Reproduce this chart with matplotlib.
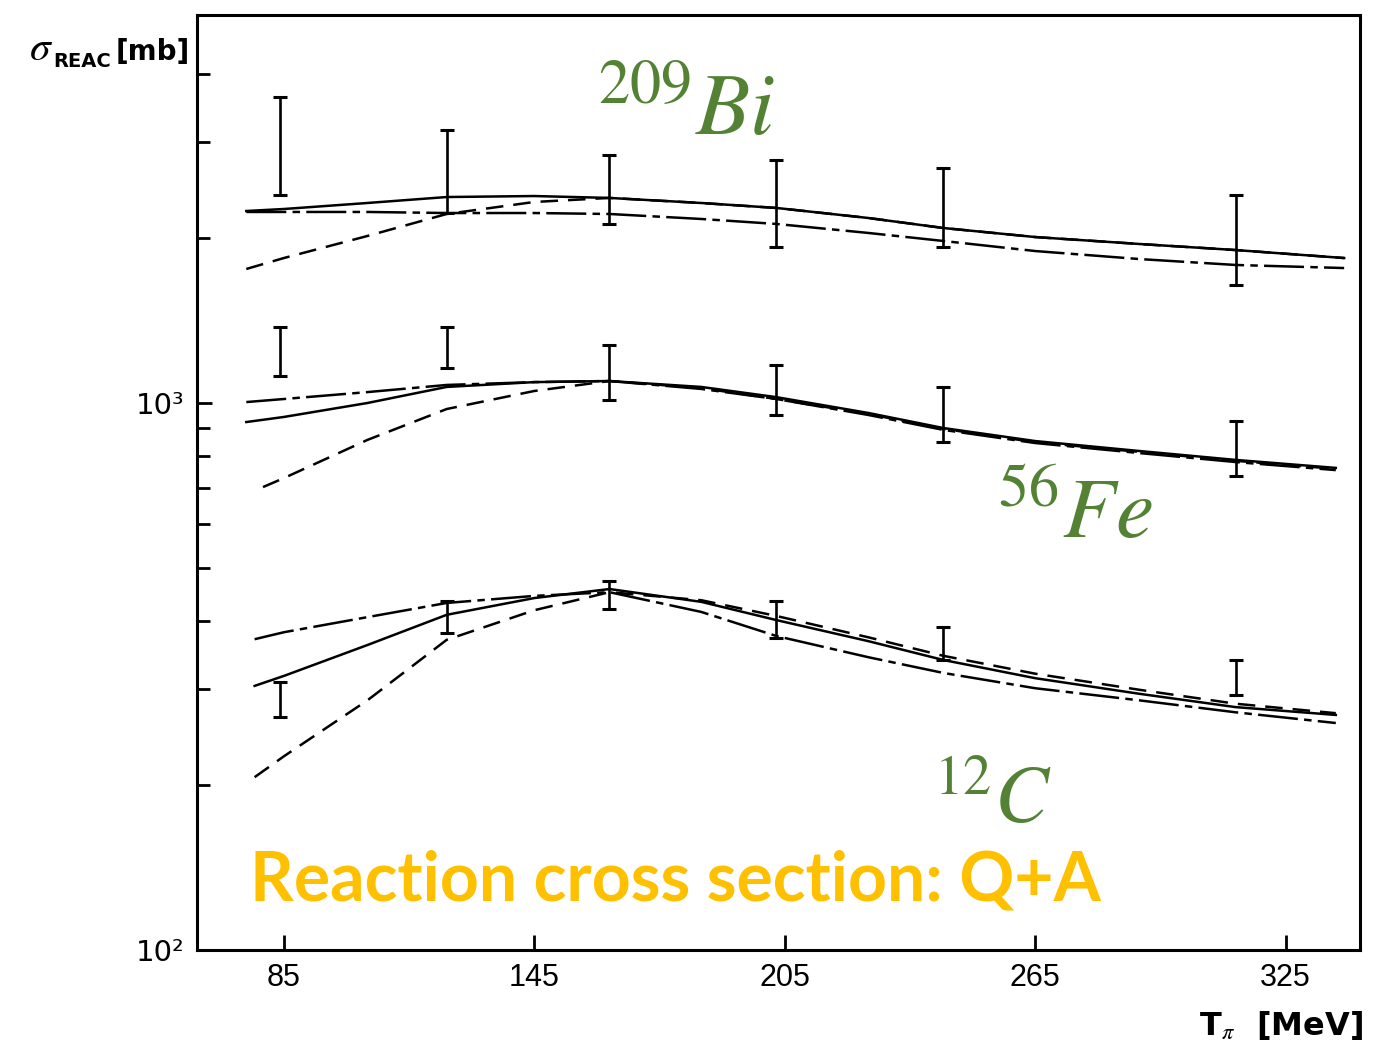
import matplotlib
matplotlib.use("Agg")
import matplotlib.pyplot as plt
import numpy as np

plt.rcParams['mathtext.fontset'] = 'stix'

# --- 209Bi ---
bi_x = [76, 85, 105, 124, 145, 163, 185, 203, 225, 243, 265, 290, 313, 339]
bi_solid = [2244, 2263, 2321, 2380, 2390, 2371, 2321, 2273, 2179, 2089, 2011, 1953, 1904, 1841]
bi_dashdot = [2235, 2235, 2235, 2225, 2225, 2216, 2170, 2125, 2046, 1978, 1896, 1833, 1788, 1765]
bi_dashed = [1758, 1841, 2020, 2216, 2331, 2371, 2321, 2273, 2179, 2089, 2011, 1953, 1904, 1841]

# --- 56Fe ---
fe_x = [76, 85, 105, 124, 145, 163, 185, 203, 225, 243, 265, 290, 313, 337]
fe_solid = [923, 943, 1000, 1070, 1092, 1097, 1070, 1025, 959, 900, 852, 817, 787, 761]
fe_dashdot = [1004, 1017, 1047, 1079, 1092, 1097, 1061, 1017, 951, 893, 845, 810, 780, 754]
fe_dashed_x = [80, 85, 105, 124, 145, 163, 185, 203, 225, 243, 265, 290, 313, 337]
fe_dashed = [702, 729, 856, 975, 1052, 1097, 1065, 1017, 955, 897, 848, 814, 784, 758]

# --- 12C ---
c_x = [78, 85, 105, 124, 145, 163, 185, 203, 225, 243, 265, 290, 313, 337]
c_solid = [304, 317, 361, 410, 440, 457, 433, 401, 367, 339, 314, 294, 278, 269]
c_dashdot = [370, 381, 406, 431, 444, 451, 415, 375, 343, 321, 301, 286, 272, 260]
c_dashed = [207, 226, 286, 369, 418, 451, 436, 408, 373, 345, 320, 299, 282, 271]

# measured points (error bar ends)
data_x = [84, 124, 163, 203, 243, 313]
bi_lo = [2399, 2223, 2124, 1928, 1928, 1645]
bi_hi = [3624, 3155, 2838, 2780, 2690, 2399]
fe_lo = [1120, 1159, 1013, 951, 849, 736]
fe_hi = [1377, 1377, 1276, 1173, 1070, 927]
c_lo = [267, 379, 420, 372, 339, 292]
c_hi = [309, 435, 473, 435, 389, 339]

xticks = [85, 145, 205, 265, 325]
minor_y = [200, 300, 400, 500, 600, 700, 800, 900, 2000, 3000, 4000]

fig = plt.figure(figsize=(13.75, 10.45), dpi=100)
ax = fig.add_axes([0.1433, 0.0909, 0.8458, 0.8947])
ax.set_yscale('log')
ax.set_xlim(64.2, 342.8)
ax.set_ylim(100, 5120)

lw = 1.8
ls_dash = (0, (7, 4))
ls_dashdot = (0, (16, 2.5, 3, 2.5))

for x, s, dd, dx, d in [(bi_x, bi_solid, bi_dashdot, bi_x, bi_dashed),
                        (fe_x, fe_solid, fe_dashdot, fe_dashed_x, fe_dashed),
                        (c_x, c_solid, c_dashdot, c_x, c_dashed)]:
    ax.plot(x, s, color='black', lw=lw)
    ax.plot(x, dd, color='black', lw=lw, linestyle=ls_dashdot)
    ax.plot(dx, d, color='black', lw=lw, linestyle=ls_dash)

for lo, hi in [(bi_lo, bi_hi), (fe_lo, fe_hi), (c_lo, c_hi)]:
    lo = np.array(lo)
    hi = np.array(hi)
    mid = (lo + hi) / 2
    ax.errorbar(data_x, mid, yerr=[mid - lo, hi - mid], fmt='none',
                ecolor='black', elinewidth=1.9, capsize=5, capthick=2.2)

for sp in ax.spines.values():
    sp.set_linewidth(2.2)

ax.set_xticks(xticks)
ax.set_xticklabels([str(v) for v in xticks], fontsize=22,
                   family='Liberation Sans')
ax.set_yticks([100, 1000])
ax.set_yticklabels(['10²', '10³'], fontsize=21, family='DejaVu Sans')
ax.set_yticks(minor_y, minor=True)
ax.yaxis.set_minor_formatter(matplotlib.ticker.NullFormatter())
ax.tick_params(axis='both', which='major', direction='in', length=11, width=2, pad=9)
ax.tick_params(axis='y', which='minor', direction='in', length=9, width=2)
ax.tick_params(axis='x', which='minor', bottom=False)

# y label pieces: sigma, subscript, unit
fig.text(0.021, 0.943, r'$\sigma$', fontsize=30)
fig.text(0.039, 0.936, 'REAC', fontsize=14, fontweight='bold', family='DejaVu Sans')
fig.text(0.084, 0.943, '[mb]', fontsize=20, fontweight='bold', family='DejaVu Sans')
fig.text(0.872, 0.01, r'T$_\pi$  [MeV]', fontsize=23, fontweight='bold')

green = '#548235'
ax.text(160, 3090, r'$^{209}Bi$', fontsize=64, color=green, va='baseline')
ax.text(255.8, 566, r'$^{56}Fe$', fontsize=62, color=green, va='baseline')
ax.text(240.5, 171, r'$^{12}C$', fontsize=58, color=green, va='baseline')
ax.text(76.9, 123.4, 'Reaction cross section: Q+A', fontsize=49, color='#FFC000',
        fontweight='bold', family='Lato', va='baseline')

fig.savefig('out.png', dpi=100)
